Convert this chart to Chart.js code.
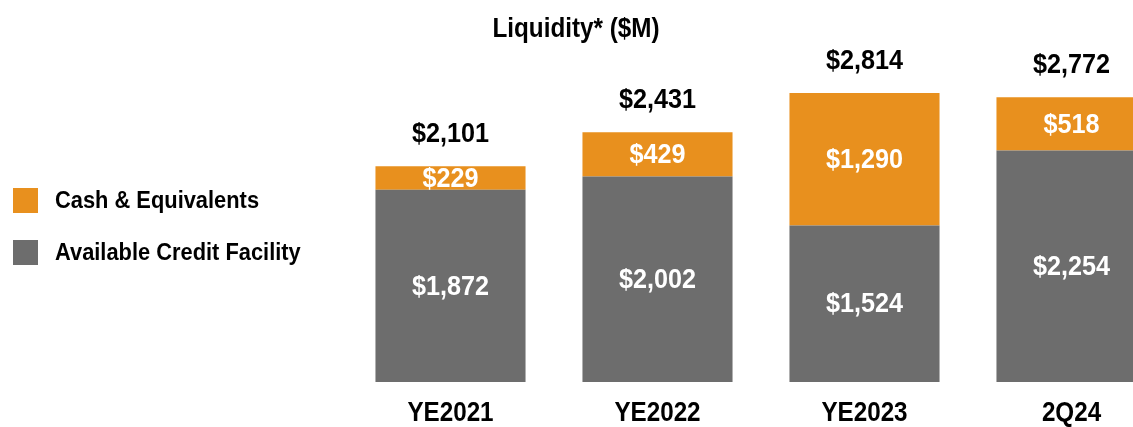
<!DOCTYPE html>
<html>
<head>
<meta charset="utf-8">
<script src="https://cdn.jsdelivr.net/npm/chart.js@4/dist/chart.umd.min.js"></script>
<style>
    html, body { margin: 0; padding: 0; background: #fff; overflow: hidden; }
    body { width: 1133px; height: 427px; position: relative; font-family: "Liberation Sans", Arial, sans-serif; }
    #chartWrap { position: absolute; left: 0; top: 0; }
    .title { position: absolute; left: 426px; width: 300px; top: 12px; line-height: 32px; text-align: center; font-weight: bold; font-size: 28px; color: #000; transform: scaleX(0.866); transform-origin: 150px center; }
    .legend-item { position: absolute; left: 13px; height: 25px; line-height: 25px; font-weight: bold; font-size: 23.5px; color: #000; white-space: nowrap; }
    .legend-item span { display: inline-block; width: 25px; height: 25px; vertical-align: top; margin-right: 17px; }
    .legend-item em { font-style: normal; display: inline-block; transform: scaleX(0.93); transform-origin: left center; }
</style>
</head>
<body>
<div id="chartWrap"><canvas id="liquidityChart" width="1175" height="427"></canvas></div>
<div class="title">Liquidity* ($M)</div>
<div class="legend-item" style="top:188px"><span style="background:#E8901E"></span><em>Cash &amp; Equivalents</em></div>
<div class="legend-item" style="top:240px"><span style="background:#6D6D6D"></span><em>Available Credit Facility</em></div>

<script>
const categories = ["YE2021", "YE2022", "YE2023", "2Q24"];
const creditFacility = [1872, 2002, 1524, 2254];
const cashEquivalents = [229, 429, 1290, 518];

const ORANGE = "#E8901E";
const GRAY = "#6D6D6D";
const FONT = '"Liberation Sans", Arial, sans-serif';

function fmt(v) {
    return "$" + v.toLocaleString("en-US");
}

// text in the source is tall and condensed, so squeeze it horizontally
function squeezedText(ctx, text, x, y, sx) {
    ctx.save();
    ctx.translate(x, y);
    ctx.scale(sx, 1);
    ctx.fillText(text, 0, 0);
    ctx.restore();
}

// segment values, totals above each bar, and category labels under the axis
const valueLabels = {
    id: "valueLabels",
    afterDatasetsDraw(chart) {
        const ctx = chart.ctx;
        ctx.save();
        ctx.font = "bold 28px " + FONT;
        ctx.textAlign = "center";
        ctx.textBaseline = "middle";
        chart.data.datasets.forEach((ds, i) => {
            chart.getDatasetMeta(i).data.forEach((bar, j) => {
                ctx.fillStyle = "#fff";
                squeezedText(ctx, fmt(ds.data[j]), bar.x, (bar.y + bar.base) / 2 + 1, 0.9);
            });
        });
        const topBars = chart.getDatasetMeta(chart.data.datasets.length - 1).data;
        topBars.forEach((bar, j) => {
            const total = creditFacility[j] + cashEquivalents[j];
            ctx.fillStyle = "#000";
            squeezedText(ctx, fmt(total), bar.x, bar.y - 32, 0.9);
        });
        const xScale = chart.scales.x;
        ctx.fillStyle = "#000";
        categories.forEach((c, i) => {
            squeezedText(ctx, c, xScale.getPixelForValue(i), xScale.top + 31, 0.865);
        });
        ctx.restore();
    }
};

const ctx = document.getElementById("liquidityChart").getContext("2d");
new Chart(ctx, {
    type: "bar",
    data: {
        labels: categories,
        datasets: [
            { label: "Available Credit Facility", data: creditFacility, backgroundColor: GRAY },
            { label: "Cash & Equivalents", data: cashEquivalents, backgroundColor: ORANGE }
        ]
    },
    options: {
        responsive: false,
        animation: false,
        layout: { padding: { left: 347, right: 0, top: 0, bottom: 0 } },
        datasets: {
            bar: { categoryPercentage: 1, barPercentage: 0.725 }
        },
        plugins: {
            legend: { display: false },
            tooltip: { enabled: false }
        },
        scales: {
            x: {
                stacked: true,
                grid: { display: false, drawTicks: false },
                border: { display: false },
                ticks: { display: false },
                afterFit(scale) { scale.height = 45; }
            },
            y: {
                stacked: true,
                display: false,
                min: 0,
                max: 3720
            }
        }
    },
    plugins: [valueLabels]
});
</script>
</body>
</html>
